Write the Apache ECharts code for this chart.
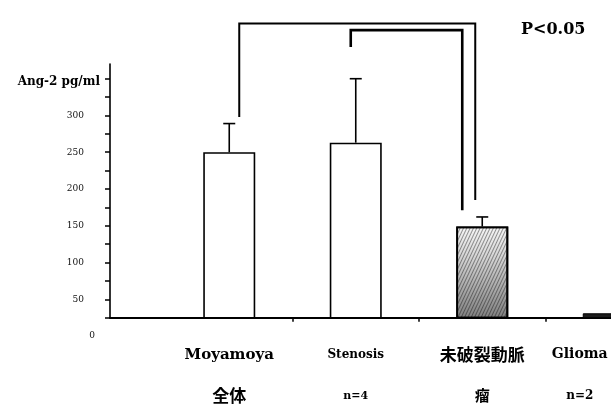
<!DOCTYPE html>
<html>
<head>
<meta charset="utf-8">
<script src="https://cdn.jsdelivr.net/npm/echarts@6/dist/echarts.min.js"></script>
<style>
  html, body { margin: 0; padding: 0; background: #ffffff; }
  #chart { width: 611px; height: 406px; }
</style>
</head>
<body>
<div id="chart"></div>
<script>
// Group names (two label rows) and Ang-2 levels in pg/ml
const categoryNames = ['Moyamoya', 'Stenosis', '未破裂動脈', 'Glioma'];
const categorySubLabels = ['全体', 'n=4', '瘤', 'n=2'];
const meanValues = [250, 263, 149, 31];
const errorUpper = [289, 350, 162, null];

// Value axis
const axisMin = 25;
const axisMax = 370;
const tickValues = [25, 50, 75, 100, 125, 150, 175, 200, 225, 250, 275, 300, 325, 350];
const labelValues = [50, 100, 150, 200, 250, 300];
const axisTitle = 'Ang-2 pg/ml';
const zeroLabel = '0';

// Significance brackets: [from group, to group], top level, left/right leg ends
const bracketPairs = [[0, 2], [1, 2]];
const bracketTops = [425, 416];
const bracketLeftEnds = [298, 393];
const bracketRightEnds = [185, 171];
const significanceText = 'P<0.05';

// Drawing styles
const bracketLook = [
  { dxLeft: 10, dxRight: -7, width: 2 },
  { dxLeft: -5, dxRight: -20, width: 2.6 }
];
const serif = "'DejaVu Serif', 'Liberation Serif', 'Noto Sans CJK JP', serif";
const cjk = "'Noto Sans CJK JP', 'DejaVu Serif', sans-serif";

const plainBar = { color: '#ffffff', borderColor: '#000000', borderWidth: 1.6 };
const barLooks = [
  plainBar,
  plainBar,
  {
    color: {
      type: 'linear', x: 0, y: 0, x2: 0, y2: 1,
      colorStops: [
        { offset: 0, color: '#f6f6f6' },
        { offset: 0.3, color: '#d8d8d8' },
        { offset: 1, color: '#808080' }
      ]
    },
    borderColor: '#000000',
    borderWidth: 1.8,
    decal: {
      symbol: 'rect', symbolSize: 1,
      dashArrayX: [1, 0], dashArrayY: [1, 2],
      rotation: -Math.PI * 0.36,
      color: 'rgba(0,0,0,0.4)'
    }
  },
  { color: '#1c1c1c', borderColor: '#000000', borderWidth: 1 }
];

const labelRich = {
  m0: { fontFamily: serif, fontWeight: 'bold', fontSize: 15, color: '#000', lineHeight: 20 },
  m1: { fontFamily: serif, fontWeight: 'bold', fontSize: 12, color: '#000', lineHeight: 20 },
  m2: { fontFamily: cjk, fontWeight: 'bold', fontSize: 17, color: '#000', lineHeight: 20 },
  m3: { fontFamily: serif, fontWeight: 'bold', fontSize: 14, color: '#000', lineHeight: 20 },
  s0: { fontFamily: cjk, fontWeight: 'bold', fontSize: 17, color: '#000', lineHeight: 62 },
  s1: { fontFamily: serif, fontWeight: 'bold', fontSize: 11, color: '#000', lineHeight: 62 },
  s2: { fontFamily: cjk, fontWeight: 'bold', fontSize: 15, color: '#000', lineHeight: 62 },
  s3: { fontFamily: serif, fontWeight: 'bold', fontSize: 12, color: '#000', lineHeight: 62 }
};

const chart = echarts.init(document.getElementById('chart'), null, { renderer: 'canvas' });

const barData = meanValues.map((v, i) => ({ value: v, itemStyle: barLooks[i] }));
const errorData = meanValues
  .map((v, i) => [i, v, errorUpper[i]])
  .filter(d => d[2] != null);
const bracketData = bracketPairs.map((p, k) => [p[0], p[1], bracketTops[k], bracketLeftEnds[k], bracketRightEnds[k], k]);

const categoryData = categoryNames.map((name, i) =>
  i === categoryNames.length - 1
    ? { value: name, textStyle: { padding: [0, 58, 0, 0] } }
    : name
);

const option = {
  animation: false,
  backgroundColor: '#ffffff',
  title: {
    text: significanceText,
    left: 516,
    top: 17,
    textStyle: { fontFamily: serif, fontWeight: 'bold', fontSize: 16, color: '#000' }
  },
  grid: [
    { left: 110, right: 0, top: 64, bottom: 88.3, outerBoundsMode: 'none', containLabel: false },
    { left: 166, width: 506, top: 64, bottom: 88.3, outerBoundsMode: 'none', containLabel: false }
  ],
  xAxis: [
    {
      gridIndex: 0, type: 'value', min: 0, max: 1,
      axisLine: { show: true, lineStyle: { color: '#000', width: 2 } },
      axisTick: { show: false }, axisLabel: { show: false }, splitLine: { show: false }
    },
    {
      gridIndex: 1, type: 'category', data: categoryData,
      axisLine: { show: false },
      axisTick: {
        show: true, length: 4,
        interval: (index) => index > 0,
        lineStyle: { color: '#000', width: 1.5 }
      },
      axisLabel: {
        margin: 27,
        interval: 0,
        formatter: (value, index) => `{m${index}|${value}}\n{s${index}|${categorySubLabels[index]}}`,
        rich: labelRich
      },
      splitLine: { show: false }
    }
  ],
  yAxis: [
    {
      gridIndex: 0, type: 'value', min: axisMin, max: axisMax, interval: 25,
      name: axisTitle,
      nameLocation: 'end',
      nameGap: -18,
      nameTextStyle: {
        fontFamily: serif, fontWeight: 'bold', fontSize: 12, color: '#000',
        align: 'right', verticalAlign: 'middle', padding: [0, 10, 0, 0]
      },
      axisLine: { show: true, lineStyle: { color: '#000', width: 1.6 } },
      axisTick: { show: true, length: 5, customValues: tickValues, lineStyle: { color: '#000', width: 1.5 } },
      axisLabel: {
        margin: 26, customValues: labelValues,
        fontFamily: serif, fontSize: 9, color: '#111'
      },
      splitLine: { show: false }
    },
    {
      gridIndex: 1, type: 'value', min: axisMin, max: axisMax, interval: 25, show: false
    }
  ],
  series: [
    {
      type: 'bar',
      xAxisIndex: 1, yAxisIndex: 1,
      barWidth: 52,
      data: barData,
      z: 2
    },
    {
      type: 'custom',
      xAxisIndex: 1, yAxisIndex: 1,
      clip: false,
      z: 3,
      data: errorData,
      renderItem: (params, api) => {
        const base = api.coord([api.value(0), api.value(1)]);
        const top = api.coord([api.value(0), api.value(2)]);
        const half = 6;
        const style = { stroke: '#000', lineWidth: 1.6 };
        return {
          type: 'group',
          children: [
            { type: 'line', shape: { x1: base[0], y1: base[1], x2: top[0], y2: top[1] }, style },
            { type: 'line', shape: { x1: top[0] - half, y1: top[1], x2: top[0] + half, y2: top[1] }, style }
          ]
        };
      }
    },
    {
      type: 'custom',
      xAxisIndex: 1, yAxisIndex: 1,
      clip: false,
      z: 3,
      data: bracketData,
      renderItem: (params, api) => {
        const look = bracketLook[api.value(5)];
        const from = api.value(0), to = api.value(1);
        const topL = api.coord([from, api.value(2)]);
        const topR = api.coord([to, api.value(2)]);
        const endL = api.coord([from, api.value(3)]);
        const endR = api.coord([to, api.value(4)]);
        const xL = topL[0] + look.dxLeft;
        const xR = topR[0] + look.dxRight;
        return {
          type: 'polyline',
          shape: { points: [[xL, endL[1]], [xL, topL[1]], [xR, topR[1]], [xR, endR[1]]] },
          style: { stroke: '#000', lineWidth: look.width, fill: null, lineJoin: 'miter' }
        };
      }
    }
  ]
};

chart.setOption(option);

// The zero label sits one step below the axis floor
const zeroPos = chart.convertToPixel({ gridIndex: 0 }, [0, 0]);
chart.setOption({
  graphic: [{
    type: 'text',
    x: zeroPos[0] - 18,
    y: zeroPos[1],
    style: {
      text: zeroLabel, fontFamily: serif, fontSize: 9, fill: '#111',
      align: 'center', verticalAlign: 'middle'
    }
  }]
});
</script>
</body>
</html>
